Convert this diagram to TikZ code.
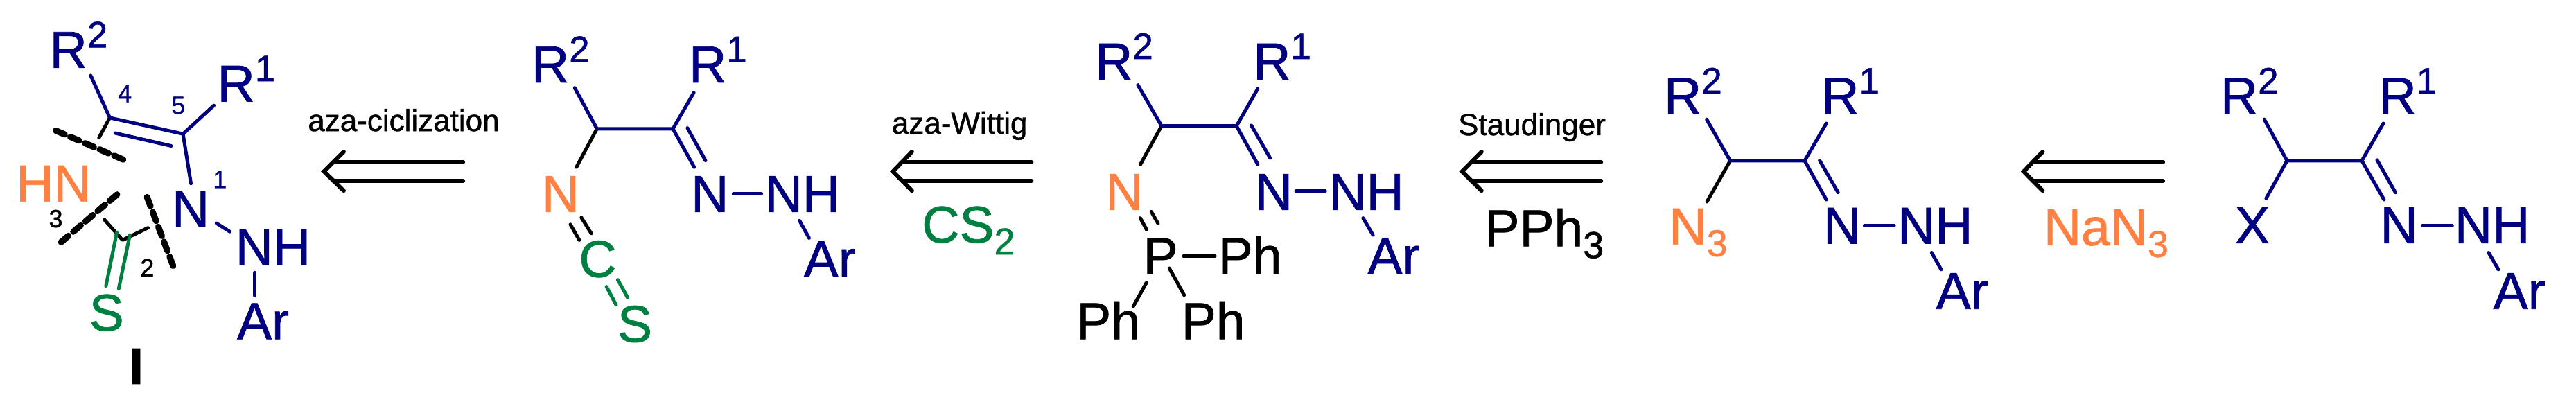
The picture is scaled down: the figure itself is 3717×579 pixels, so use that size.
\documentclass[tikz,border=0pt]{standalone}
\usepackage{fontspec}
\setmainfont[FakeBold=1]{Liberation Sans}
\definecolor{navyb}{RGB}{0,0,128}
\definecolor{orangeb}{RGB}{255,128,64}
\definecolor{greenb}{RGB}{0,128,64}
\newcommand{\RSup}[1]{R\raisebox{29.5pt}{\fontsize{53pt}{53pt}\selectfont #1}}
\newcommand{\LSub}[1]{\raisebox{-17pt}{\fontsize{54pt}{54pt}\selectfont #1}}
\tikzset{
  atom/.style={anchor=base west,inner sep=0pt,outer sep=0pt,font=\fontsize{75pt}{75pt}\selectfont,xshift=-5.5pt},
  atomz/.style={atom,xshift=5.5pt},
  atoms/.style={atom,xshift=2pt},
  nv/.style={text=navyb},
  og/.style={text=orangeb},
  gr/.style={text=greenb},
  num/.style={anchor=base west,inner sep=0pt,outer sep=0pt,font=\fontsize{36pt}{36pt}\selectfont,xshift=-2pt},
  rxn/.style={anchor=base west,inner sep=0pt,outer sep=0pt,font=\fontsize{44pt}{44pt}\selectfont,xshift=-2pt},
  bond/.style={line width=5pt,line cap=round,line join=round,draw=navyb},
  bbond/.style={bond,draw=black},
  gbond/.style={bond,draw=greenb},
  cut/.style={line width=9pt,line cap=round,draw=black,dash pattern=on 14pt off 9pt},
  retro/.style={line width=6pt,line cap=round,line join=miter,draw=black},
  wide/.style={x=0.4592pt,y=-0.3693pt},
  narrow/.style={x=0.5102pt,y=-0.3693pt}
}
\begin{document}
\begin{tikzpicture}
\useasboundingbox (0,0) rectangle (3717pt,-579pt);
% ---------- structure I ----------
\begin{scope}[wide]
\node[atom,nv] (aR2) at (168,265) {\RSup{2}};
\node[atom,nv] (aR1) at (695,397) {\RSup{1}};
\node[atom,og] (aHN) at (63,787) {HN};
\node[atom,nv] (aN) at (552,887) {N};
\node[atom,nv] (aNH) at (752,1035) {NH};
\node[atomz,nv] (aAr) at (745,1325) {Ar};
\node[atoms,gr] (aS) at (288,1292) {S};
\node[atom,font=\fontsize{74pt}{74pt}\selectfont\bfseries] (aI) at (418,1500) {I};
\node[num,nv] (n4) at (375,400) {4};
\node[num,nv] (n5) at (543,445) {5};
\node[num,nv,xshift=-3pt] (n1) at (680,735) {1};
\node[num] (n3) at (158,888) {3};
\node[num] (n2) at (445,1080) {2};
\node[rxn] (t1) at (972,512) {aza-ciclization};
\coordinate (a1) at (285,295); \coordinate (aC4) at (345,460); \coordinate (aC5) at (575,523);
\coordinate (a2) at (362,520); \coordinate (a3) at (538,570); \coordinate (a4) at (672,412);
\coordinate (a5) at (600,717); \coordinate (a6) at (680,872); \coordinate (a7) at (722,905);
\coordinate (a8) at (801,1065); \coordinate (a9) at (801,1155); \coordinate (a10) at (311,538);
\coordinate (a11) at (328,858); \coordinate (aC2) at (385,938); \coordinate (a12) at (465,890);
\coordinate (a13) at (367,908); \coordinate (a14) at (333,1117); \coordinate (a15) at (408,918); \coordinate (a16) at (373,1128);
\coordinate (c1) at (175,510); \coordinate (c2) at (390,625); \coordinate (c3) at (368,760); \coordinate (c4) at (190,948); \coordinate (c5) at (462,770); \coordinate (c6) at (545,1042);
\draw[bbond] (aC4) -- (a10);
\draw[bbond] (a11) -- (aC2) -- (a12);
\draw[gbond] (a13) -- (a14);
\draw[gbond] (a15) -- (a16);
\draw[bond] (a1) -- (aC4) -- (aC5) -- (a4);
\draw[bond] (aC5) -- (a5);
\draw[bond] (a2) -- (a3);
\draw[bond] (a6) -- (a7);
\draw[bond] (a8) -- (a9);
\draw[cut] (c1) -- (c2);
\draw[cut] (c3) -- (c4);
\draw[cut] (c5) -- (c6);
\coordinate (r1a) at (1080,593); \coordinate (r1b) at (1018,670); \coordinate (r1c) at (1080,745);
\coordinate (r1d) at (1048,633); \coordinate (r1e) at (1455,633); \coordinate (r1f) at (1048,707); \coordinate (r1g) at (1455,707);
\draw[retro] (r1a) -- (r1b) -- (r1c);
\draw[retro] (r1d) -- (r1e);
\draw[retro] (r1f) -- (r1g);
\end{scope}
% ---------- isothiocyanate ----------
\begin{scope}[narrow,shift={(720pt,0pt)}]
\node[atom,nv] (bR2) at (103,322) {\RSup{2}};
\node[atom,nv] (bR1) at (548,322) {\RSup{1}};
\node[atom,og] (bN1) at (132,828) {N};
\node[atom,nv] (bN2) at (554,828) {N};
\node[atom,nv] (bNH) at (763,828) {NH};
\node[atomz,nv] (bAr) at (862,1082) {Ar};
\node[atoms,gr] (bC) at (233,1082) {C};
\node[atoms,gr] (bS) at (342,1336) {S};
\node[rxn] (t2) at (1115,522) {aza-Wittig};
\node[atoms,gr] (bCS) at (1203,948) {CS\LSub{2}};
\coordinate (b1) at (214,343); \coordinate (bCa) at (277,503); \coordinate (bCb) at (492,503);
\coordinate (b2) at (551,362); \coordinate (b3) at (552,653); \coordinate (b4) at (533,500); \coordinate (b5) at (584,627);
\coordinate (b6) at (219,653); \coordinate (b7) at (663,758); \coordinate (b8) at (742,758);
\coordinate (b9) at (850,862); \coordinate (b10) at (877,930);
\coordinate (b11) at (233,850); \coordinate (b12) at (261,912); \coordinate (b13) at (202,877); \coordinate (b14) at (227,938);
\coordinate (b15) at (336,1093); \coordinate (b16) at (364,1163); \coordinate (b17) at (304,1120); \coordinate (b18) at (331,1190);
\draw[bbond] (bCa) -- (b6);
\draw[bbond] (b11) -- (b12);
\draw[bbond] (b13) -- (b14);
\draw[gbond] (b15) -- (b16);
\draw[gbond] (b17) -- (b18);
\draw[bond] (b1) -- (bCa) -- (bCb) -- (b2);
\draw[bond] (bCb) -- (b3);
\draw[bond] (b4) -- (b5);
\draw[bond] (b7) -- (b8);
\draw[bond] (b9) -- (b10);
\coordinate (r2a) at (1168,593); \coordinate (r2b) at (1114,670); \coordinate (r2c) at (1168,745);
\coordinate (r2d) at (1142,633); \coordinate (r2e) at (1506,633); \coordinate (r2f) at (1142,707); \coordinate (r2g) at (1506,707);
\draw[retro] (r2a) -- (r2b) -- (r2c);
\draw[retro] (r2d) -- (r2e);
\draw[retro] (r2f) -- (r2g);
\end{scope}
% ---------- iminophosphorane ----------
\begin{scope}[narrow,shift={(1500pt,0pt)}]
\node[atom,nv] (cR2) at (168,310) {\RSup{2}};
\node[atom,nv] (cR1) at (615,310) {\RSup{1}};
\node[atom,og] (cN1) at (198,820) {N};
\node[atom,nv] (cN2) at (620,820) {N};
\node[atom,nv] (cNH) at (829,820) {NH};
\node[atomz,nv] (cAr) at (928,1070) {Ar};
\node[atom] (cP) at (304,1070) {P};
\node[atom] (cPh1) at (516,1070) {Ph};
\node[atom] (cPh2) at (115,1325) {Ph};
\node[atom] (cPh3) at (412,1325) {Ph};
\node[rxn] (t3) at (1188,528) {Staudinger};
\node[atom] (cPPh) at (1270,962) {PPh\LSub{3}};
\coordinate (d1) at (278,332); \coordinate (dCa) at (345,492); \coordinate (dCb) at (557,492);
\coordinate (d2) at (617,347); \coordinate (d3) at (617,642); \coordinate (d4) at (599,490); \coordinate (d5) at (652,617);
\coordinate (d6) at (285,643); \coordinate (d7) at (725,747); \coordinate (d8) at (808,747);
\coordinate (d9) at (915,852); \coordinate (d10) at (943,918);
\coordinate (d11) at (316,827); \coordinate (d12) at (335,873); \coordinate (d13) at (285,852); \coordinate (d14) at (303,898);
\coordinate (d15) at (407,1001); \coordinate (d16) at (496,1001);
\coordinate (d17) at (302,1105); \coordinate (d18) at (265,1197);
\coordinate (d19) at (367,1048); \coordinate (d20) at (409,1153);
\draw[bbond] (dCa) -- (d6);
\draw[bbond] (d11) -- (d12);
\draw[bbond] (d13) -- (d14);
\draw[bbond] (d15) -- (d16);
\draw[bbond] (d17) -- (d18);
\draw[bbond] (d19) -- (d20);
\draw[bond] (d1) -- (dCa) -- (dCb) -- (d2);
\draw[bond] (dCb) -- (d3);
\draw[bond] (d4) -- (d5);
\draw[bond] (d7) -- (d8);
\draw[bond] (d9) -- (d10);
\coordinate (r3a) at (1250,593); \coordinate (r3b) at (1195,670); \coordinate (r3c) at (1250,745);
\coordinate (r3d) at (1222,633); \coordinate (r3e) at (1588,633); \coordinate (r3f) at (1222,707); \coordinate (r3g) at (1588,707);
\draw[retro] (r3a) -- (r3b) -- (r3c);
\draw[retro] (r3d) -- (r3e);
\draw[retro] (r3f) -- (r3g);
\end{scope}
% ---------- azide ----------
\begin{scope}[wide,shift={(2300pt,0pt)}]
\node[atom,nv] (eR2) at (232,445) {\RSup{2}};
\node[atom,nv] (eR1) at (727,445) {\RSup{1}};
\node[atom,og] (eN3) at (248,955) {N\LSub{3}};
\node[atom,nv] (eN) at (733,952) {N};
\node[atom,nv] (eNH) at (966,952) {NH};
\node[atomz,nv] (eAr) at (1075,1207) {Ar};
\node[atom,og] (eNa) at (1425,958) {NaN\LSub{3}};
\coordinate (e1) at (354,466); \coordinate (eCa) at (428,628); \coordinate (eCb) at (662,628);
\coordinate (e2) at (730,482); \coordinate (e3) at (730,780); \coordinate (e4) at (709,627); \coordinate (e5) at (767,752);
\coordinate (e6) at (355,788); \coordinate (e7) at (850,882); \coordinate (e8) at (943,882);
\coordinate (e9) at (1061,987); \coordinate (e10) at (1091,1053);
\draw[bbond] (eCa) -- (e6);
\draw[bond] (e1) -- (eCa) -- (eCb) -- (e2);
\draw[bond] (eCb) -- (e3);
\draw[bond] (e4) -- (e5);
\draw[bond] (e7) -- (e8);
\draw[bond] (e9) -- (e10);
\coordinate (r4a) at (1410,593); \coordinate (r4b) at (1350,670); \coordinate (r4c) at (1410,745);
\coordinate (r4d) at (1380,633); \coordinate (r4e) at (1788,633); \coordinate (r4f) at (1380,707); \coordinate (r4g) at (1788,707);
\draw[retro] (r4a) -- (r4b) -- (r4c);
\draw[retro] (r4d) -- (r4e);
\draw[retro] (r4f) -- (r4g);
\end{scope}
% ---------- halide ----------
\begin{scope}[x=0.4573pt,y=-0.3693pt,shift={(3000pt,0pt)}]
\node[atom,nv] (fR2) at (458,445) {\RSup{2}};
\node[atom,nv] (fR1) at (958,445) {\RSup{1}};
\node[atomz,nv] (fX) at (492,950) {X};
\node[atom,nv] (fN) at (962,950) {N};
\node[atom,nv] (fNH) at (1197,950) {NH};
\node[atomz,nv] (fAr) at (1307,1207) {Ar};
\coordinate (f1) at (584,466); \coordinate (fCa) at (656,628); \coordinate (fCb) at (892,628);
\coordinate (f2) at (960,482); \coordinate (f3) at (962,780); \coordinate (f4) at (940,625); \coordinate (f5) at (998,752);
\coordinate (f6) at (590,775); \coordinate (f7) at (1083,882); \coordinate (f8) at (1177,882);
\coordinate (f9) at (1292,987); \coordinate (f10) at (1323,1053);
\draw[bond] (f1) -- (fCa) -- (fCb) -- (f2);
\draw[bond] (fCa) -- (f6);
\draw[bond] (fCb) -- (f3);
\draw[bond] (f4) -- (f5);
\draw[bond] (f7) -- (f8);
\draw[bond] (f9) -- (f10);
\end{scope}
\end{tikzpicture}
\end{document}
